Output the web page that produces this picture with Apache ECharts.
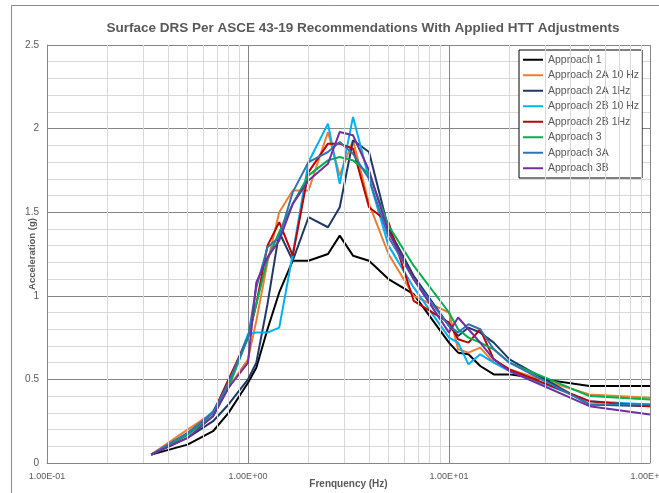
<!DOCTYPE html>
<html>
<head>
<meta charset="utf-8">
<script src="https://cdn.jsdelivr.net/npm/echarts@6/dist/echarts.min.js"></script>
<style>
  html, body { margin: 0; padding: 0; background: #fff; }
  #chart { width: 659px; height: 493px; }
</style>
</head>
<body>
<div id="chart"></div>
<script>
// frequencies (Hz) shared by all approaches
const freqHz = [0.33, 0.5, 0.67, 0.8, 1.0, 1.1, 1.25, 1.43, 1.67, 2.0, 2.5, 2.86, 3.33, 4.0, 5.0, 6.67, 10, 11.1, 12.5, 14.3, 16.7, 20, 50, 100];

// acceleration (g)
const approach1   = [0.05, 0.11, 0.19, 0.30, 0.48, 0.57, 0.80, 1.02, 1.21, 1.21, 1.25, 1.36, 1.24, 1.21, 1.10, 1.01, 0.72, 0.66, 0.65, 0.58, 0.53, 0.53, 0.46, 0.46];
const approach2A10 = [0.05, 0.20, 0.30, 0.45, 0.62, 0.85, 1.20, 1.50, 1.63, 1.63, 1.98, 1.72, 1.93, 1.55, 1.25, 1.00, 0.90, 0.68, 0.66, 0.69, 0.60, 0.56, 0.41, 0.39];
const approach2A1  = [0.05, 0.15, 0.25, 0.35, 0.50, 0.60, 0.95, 1.38, 1.21, 1.47, 1.41, 1.53, 1.93, 1.86, 1.40, 1.12, 0.82, 0.76, 0.81, 0.78, 0.72, 0.62, 0.35, 0.34];
const approach2B10 = [0.05, 0.17, 0.31, 0.47, 0.77, 0.78, 0.78, 0.81, 1.25, 1.80, 2.03, 1.67, 2.07, 1.70, 1.30, 1.05, 0.75, 0.72, 0.59, 0.65, 0.60, 0.55, 0.37, 0.35];
const approach2B1  = [0.05, 0.17, 0.30, 0.50, 0.75, 0.95, 1.30, 1.44, 1.24, 1.74, 1.91, 1.91, 1.88, 1.53, 1.44, 0.97, 0.84, 0.74, 0.72, 0.80, 0.62, 0.56, 0.37, 0.34];
const approach3    = [0.05, 0.17, 0.28, 0.45, 0.75, 0.95, 1.22, 1.38, 1.55, 1.72, 1.81, 1.83, 1.81, 1.73, 1.42, 1.18, 0.90, 0.80, 0.75, 0.72, 0.68, 0.60, 0.40, 0.38];
const approach3A   = [0.05, 0.18, 0.30, 0.48, 0.75, 1.05, 1.29, 1.35, 1.62, 1.80, 1.86, 1.92, 1.85, 1.70, 1.35, 1.10, 0.82, 0.78, 0.83, 0.80, 0.68, 0.60, 0.35, 0.35];
const approach3B   = [0.05, 0.15, 0.28, 0.45, 0.60, 1.08, 1.23, 1.33, 1.55, 1.69, 1.79, 1.98, 1.96, 1.75, 1.38, 1.10, 0.78, 0.87, 0.80, 0.72, 0.62, 0.55, 0.34, 0.29];

const seriesNames = ['Approach 1', 'Approach 2A 10 Hz', 'Approach 2A 1Hz', 'Approach 2B 10 Hz', 'Approach 2B 1Hz', 'Approach 3', 'Approach 3A', 'Approach 3B'];
const seriesValues = [approach1, approach2A10, approach2A1, approach2B10, approach2B1, approach3, approach3A, approach3B];
const seriesColors = ['#000000', '#ed7d31', '#1f3864', '#00b0f0', '#c00000', '#00b050', '#2e75b6', '#7030a0'];

// minor log gridlines
const minorFreqs = [0.2, 0.3, 0.4, 0.5, 0.6, 0.7, 0.8, 0.9, 2, 3, 4, 5, 6, 7, 8, 9, 20, 30, 40, 50, 60, 70, 80, 90];

const font = '"Liberation Sans", Arial, sans-serif';

function sci(v) {
  const e = Math.round(Math.log10(v));
  const m = v / Math.pow(10, e);
  return m.toFixed(2) + 'E' + (e < 0 ? '-' : '+') + String(Math.abs(e)).padStart(2, '0');
}

const chart = echarts.init(document.getElementById('chart'));

const lineSeries = seriesNames.map((name, i) => ({
  name: name,
  type: 'line',
  symbol: 'none',
  z: 3,
  lineStyle: { width: 2, color: seriesColors[i] },
  itemStyle: { color: seriesColors[i] },
  data: freqHz.map((f, j) => [f, seriesValues[i][j]]),
}));

const option = {
  animation: false,
  backgroundColor: '#fff',
  title: {
    text: 'Surface DRS Per ASCE 43-19 Recommendations With Applied HTT Adjustments',
    left: 358,
    textAlign: 'center',
    top: 16,
    textStyle: { fontFamily: font, fontSize: 13.5, fontWeight: 'bold', color: '#595959' },
  },
  graphic: [
    {
      type: 'rect',
      shape: { x: 11.5, y: 5.5, width: 700, height: 600 },
      style: { fill: 'none', stroke: '#8c8c8c', lineWidth: 1 },
      silent: true,
    },
  ],
  legend: {
    data: seriesNames,
    orient: 'vertical',
    left: 519,
    top: 50,
    padding: [4, 3, 4, 4],
    itemGap: 4,
    itemWidth: 20,
    itemHeight: 2,
    icon: 'rect',
    borderColor: '#000',
    borderWidth: 1,
    backgroundColor: '#fff',
    textStyle: { fontFamily: font, fontSize: 10.5, color: '#595959', lineHeight: 11.5 },
  },
  grid: { left: 47, right: 9, top: 45, bottom: 30, outerBoundsMode: 'none' },
  xAxis: {
    type: 'log',
    logBase: 10,
    min: 0.1,
    max: 100,
    name: 'Frenquency (Hz)',
    nameLocation: 'middle',
    nameGap: 16,
    nameMoveOverlap: false,
    nameTextStyle: { fontFamily: font, fontSize: 10, fontWeight: 'bold', color: '#595959' },
    axisLine: { show: true, lineStyle: { color: '#868686' } },
    axisTick: { show: false },
    axisLabel: { fontFamily: font, fontSize: 9, color: '#595959', margin: 9, formatter: sci },
    splitLine: { show: true, lineStyle: { color: '#868686', width: 1 } },
  },
  yAxis: {
    type: 'value',
    min: 0,
    max: 2.5,
    interval: 0.5,
    name: 'Acceleration (g)',
    nameLocation: 'middle',
    nameGap: 10,
    nameMoveOverlap: false,
    nameTextStyle: { fontFamily: font, fontSize: 9.5, fontWeight: 'bold', color: '#595959' },
    axisLine: { show: true, lineStyle: { color: '#868686' } },
    axisTick: { show: false },
    axisLabel: { fontFamily: font, fontSize: 10, color: '#595959', margin: 8 },
    splitLine: { show: true, lineStyle: { color: '#868686', width: 1 } },
    minorTick: { show: false, splitNumber: 5 },
    minorSplitLine: { show: true, lineStyle: { color: '#d9d9d9', width: 1 } },
  },
  series: [
    {
      name: 'minor-grid',
      type: 'line',
      data: [],
      z: 1,
      silent: true,
      markLine: {
        silent: true,
        symbol: 'none',
        label: { show: false },
        lineStyle: { color: '#d9d9d9', width: 1, type: 'solid' },
        data: minorFreqs.map(f => ({ xAxis: f })),
      },
    },
  ].concat(lineSeries),
};

chart.setOption(option);
</script>
</body>
</html>
